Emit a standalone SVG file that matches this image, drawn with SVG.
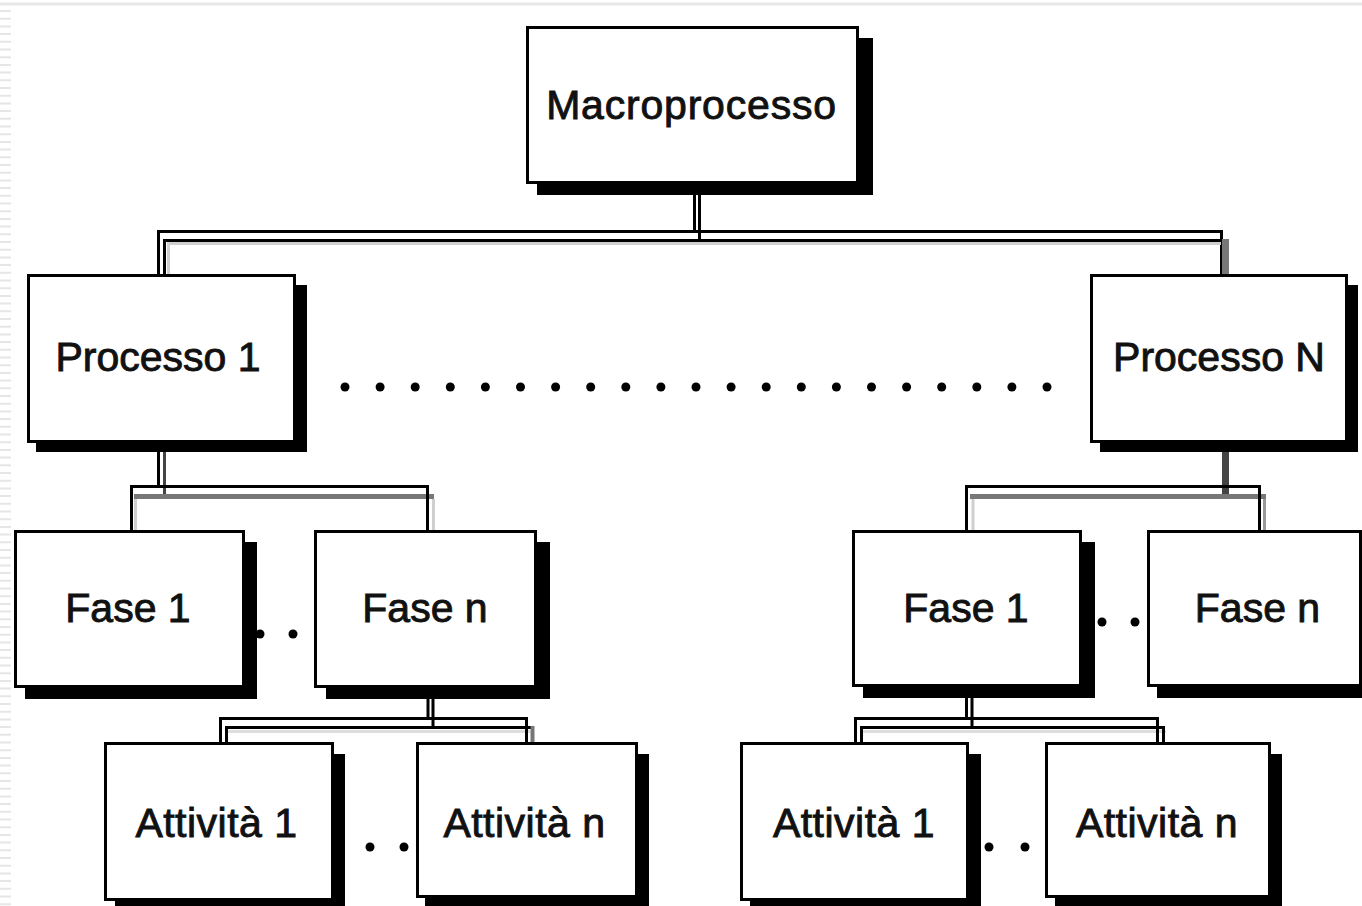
<svg xmlns="http://www.w3.org/2000/svg" width="1362" height="906" viewBox="0 0 1362 906">
<style>
.shadow{fill:#000}
.box{fill:#fff;stroke:#000;stroke-width:3}
.lbl{font-family:"Liberation Sans",Arial,sans-serif;font-size:41px;fill:#111;stroke:#111;stroke-width:0.9;text-anchor:middle}
.k{fill:none;stroke:#000;stroke-width:3}
.g{fill:none;stroke:#777;stroke-width:5}
.lg{fill:none;stroke:#cfcfcf;stroke-width:3}
.dot{fill:#000}
</style>
<rect width="1362" height="906" fill="#fff"/>
<g id="page-edge">
<line x1="0" y1="4" x2="1362" y2="4" stroke="#e8e8e8" stroke-width="3"/>
<line x1="5.5" y1="10" x2="5.5" y2="906" stroke="#e6e6e6" stroke-width="11" stroke-dasharray="2 5.7"/>
</g>
<g id="connectors">
<path class="k" d="M694.5,184 V231"/>
<path class="k" d="M699.5,195 V240"/>
<path class="k" d="M158.5,274 V231.5 H1221.5 V274"/>
<path class="lg" d="M168.5,274 V243.5 H1221"/>
<path class="k" d="M164.5,274 V240.5 H1226"/>
<line x1="1225.5" y1="239" x2="1225.5" y2="274" stroke="#777" stroke-width="7"/>
<path class="k" d="M158.5,443 V486"/>
<line x1="164.5" y1="452" x2="164.5" y2="495" stroke="#444" stroke-width="3"/>
<path class="g" d="M134,496.5 H434"/>
<path class="lg" d="M135.5,499 V530 M433.5,499 V530"/>
<path class="k" d="M131.5,530 V486.5 H427.5 V530"/>
<line x1="1225.5" y1="443" x2="1225.5" y2="497" stroke="#444" stroke-width="7"/>
<path class="g" d="M970,496.5 H1266"/>
<path class="lg" d="M973,499 V530"/>
<line x1="1264.5" y1="499" x2="1264.5" y2="530" stroke="#999" stroke-width="3"/>
<path class="k" d="M966.5,530 V486.5 H1259.5 V530"/>
<path class="k" d="M428,699 V719 M433,699 V728"/>
<line x1="228" y1="731.5" x2="530" y2="731.5" stroke="#ddd" stroke-width="3"/>
<path class="k" d="M220.5,742 V718.5 H526.5 V742"/>
<path class="k" d="M226.5,742 V727.5 H531"/>
<line x1="532.5" y1="726" x2="532.5" y2="742" stroke="#777" stroke-width="4"/>
<path class="k" d="M966.5,698 V719 M972,698 V728"/>
<line x1="863" y1="731.5" x2="1166" y2="731.5" stroke="#ddd" stroke-width="3"/>
<path class="k" d="M855.5,742 V718.5 H1157.5 V742"/>
<path class="k" d="M861.5,742 V727.5 H1163.5 V742"/>
</g>
<g id="ellipsis">
<circle class="dot" cx="345" cy="387" r="4.5"/><circle class="dot" cx="380.1" cy="387" r="4.5"/><circle class="dot" cx="415.2" cy="387" r="4.5"/><circle class="dot" cx="450.3" cy="387" r="4.5"/><circle class="dot" cx="485.4" cy="387" r="4.5"/><circle class="dot" cx="520.5" cy="387" r="4.5"/><circle class="dot" cx="555.6" cy="387" r="4.5"/><circle class="dot" cx="590.7" cy="387" r="4.5"/><circle class="dot" cx="625.8" cy="387" r="4.5"/><circle class="dot" cx="660.9" cy="387" r="4.5"/><circle class="dot" cx="696" cy="387" r="4.5"/><circle class="dot" cx="731.1" cy="387" r="4.5"/><circle class="dot" cx="766.2" cy="387" r="4.5"/><circle class="dot" cx="801.3" cy="387" r="4.5"/><circle class="dot" cx="836.4" cy="387" r="4.5"/><circle class="dot" cx="871.5" cy="387" r="4.5"/><circle class="dot" cx="906.6" cy="387" r="4.5"/><circle class="dot" cx="941.7" cy="387" r="4.5"/><circle class="dot" cx="976.8" cy="387" r="4.5"/><circle class="dot" cx="1011.9" cy="387" r="4.5"/><circle class="dot" cx="1047" cy="387" r="4.5"/>
<circle class="dot" cx="260" cy="634" r="4.5"/><circle class="dot" cx="293" cy="634" r="4.5"/>
<circle class="dot" cx="1102" cy="622" r="4.5"/><circle class="dot" cx="1135" cy="622" r="4.5"/>
<circle class="dot" cx="370" cy="847" r="4.5"/><circle class="dot" cx="404" cy="847" r="4.5"/>
<circle class="dot" cx="989" cy="847" r="4.5"/><circle class="dot" cx="1025" cy="847" r="4.5"/>
</g>
<g id="macroprocesso">
<rect class="shadow" x="537" y="38" width="336" height="157"/>
<rect class="box" x="527.5" y="27.5" width="330" height="155"/>
<text class="lbl" x="691.5" y="119" letter-spacing="0.8">Macroprocesso</text>
</g>
<g id="processo-1">
<rect class="shadow" x="36" y="285" width="271" height="167"/>
<rect class="box" x="28.5" y="275.5" width="266" height="166"/>
<text class="lbl" x="158" y="371">Processo 1</text>
</g>
<g id="processo-n">
<rect class="shadow" x="1100" y="285" width="258" height="167"/>
<rect class="box" x="1091.5" y="275.5" width="255" height="166"/>
<text class="lbl" x="1219" y="371">Processo N</text>
</g>
<g id="fase-1-left">
<rect class="shadow" x="25" y="542" width="232" height="157"/>
<rect class="box" x="15.5" y="531.5" width="228" height="155"/>
<text class="lbl" x="128" y="622">Fase 1</text>
</g>
<g id="fase-n-left">
<rect class="shadow" x="326" y="542" width="224" height="157"/>
<rect class="box" x="315.5" y="531.5" width="220" height="155"/>
<text class="lbl" x="425" y="622">Fase n</text>
</g>
<g id="fase-1-right">
<rect class="shadow" x="863" y="542" width="232" height="156"/>
<rect class="box" x="853.5" y="531.5" width="227" height="154"/>
<text class="lbl" x="966" y="622">Fase 1</text>
</g>
<g id="fase-n-right">
<rect class="shadow" x="1157" y="542" width="210" height="156"/>
<rect class="box" x="1148.5" y="531.5" width="212" height="154"/>
<text class="lbl" x="1257.5" y="622">Fase n</text>
</g>
<g id="attivita-1-left">
<rect class="shadow" x="115" y="754" width="230" height="160"/>
<rect class="box" x="105.5" y="743.5" width="227" height="156"/>
<text class="lbl" x="216.5" y="837" letter-spacing="0.5">Attività 1</text>
</g>
<g id="attivita-n-left">
<rect class="shadow" x="425" y="754" width="224" height="156"/>
<rect class="box" x="417.5" y="743.5" width="219" height="153"/>
<text class="lbl" x="524.5" y="837" letter-spacing="0.5">Attività n</text>
</g>
<g id="attivita-1-right">
<rect class="shadow" x="750" y="754" width="231" height="160"/>
<rect class="box" x="741.5" y="743.5" width="226" height="156"/>
<text class="lbl" x="854" y="837" letter-spacing="0.5">Attività 1</text>
</g>
<g id="attivita-n-right">
<rect class="shadow" x="1055" y="754" width="227" height="156"/>
<rect class="box" x="1046.5" y="743.5" width="223" height="153"/>
<text class="lbl" x="1157" y="837" letter-spacing="0.5">Attività n</text>
</g>
</svg>
